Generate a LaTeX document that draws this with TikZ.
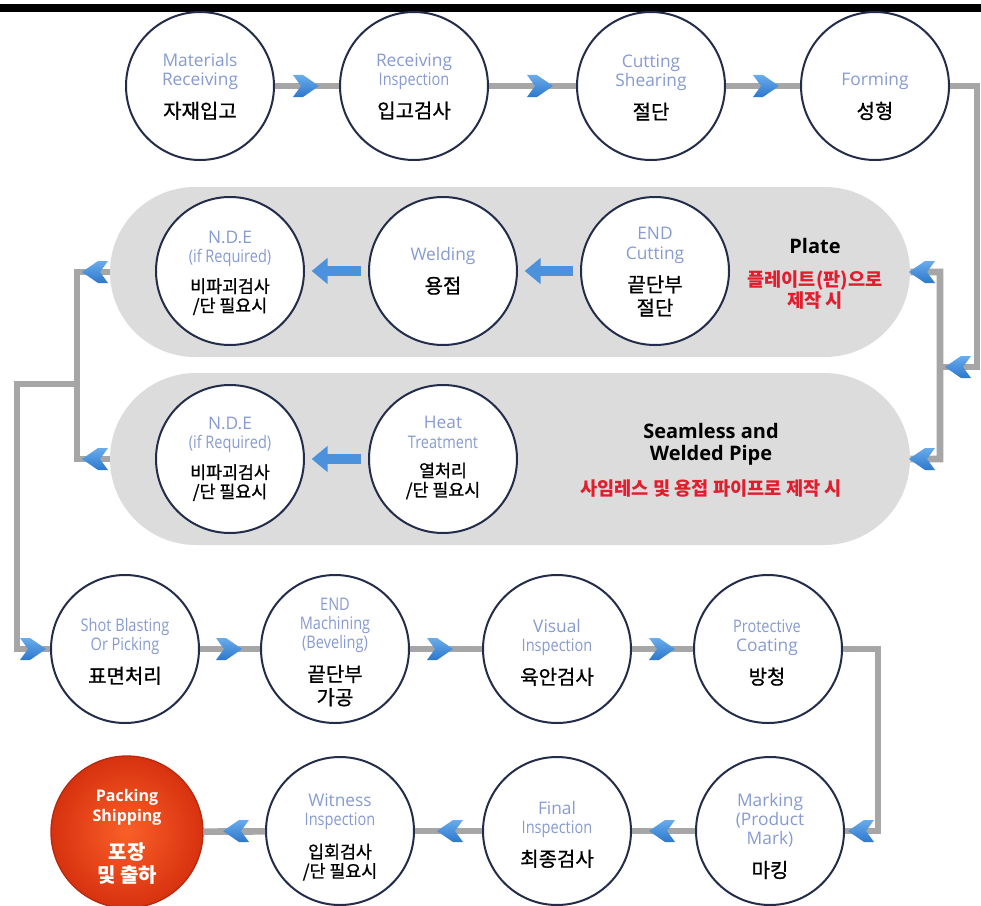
\documentclass[tikz,border=0pt]{standalone}
\usepackage{fontspec}
\setmainfont{Open Sans}
\newfontfamily\kr[FakeBold=0.9]{Noto Sans CJK KR}
\newfontfamily\krb{Noto Sans CJK KR}
\newfontfamily\nar[FakeStretch=0.84]{Open Sans}
\usetikzlibrary{shapes.misc,arrows.meta}
\definecolor{engblue}{RGB}{135,155,210}
\definecolor{navy}{RGB}{35,45,75}
\definecolor{conngray}{RGB}{166,166,166}
\definecolor{bandgray}{RGB}{220,220,220}
\definecolor{chevtop}{RGB}{105,172,235}
\definecolor{chevbot}{RGB}{45,120,205}
\definecolor{arrblue}{RGB}{75,145,220}
\definecolor{redtxt}{RGB}{225,30,45}
\definecolor{pkin}{RGB}{250,95,40}
\definecolor{pkout}{RGB}{215,50,15}
\definecolor{pkedge}{RGB}{185,40,15}
\newcommand\EN{\rmfamily\mdseries\color{engblue}\fontsize{13}{14.5}\selectfont}
\newcommand\ENn{\nar\mdseries\color{engblue}\fontsize{13}{14.5}\selectfont}
\newcommand\KO{\kr\mdseries\color{black}\fontsize{15}{14.5}\selectfont}
\newcommand\KOs{\kr\mdseries\color{black}\fontsize{13}{14.5}\selectfont}
\newcommand\BK{\rmfamily\bfseries\color{black}\fontsize{15}{16.5}\selectfont}
\newcommand\RD{\krb\bfseries\color{redtxt}\fontsize{14}{15}\selectfont}
\newcommand\PKE{\rmfamily\bfseries\color{white}\fontsize{12}{16}\selectfont}
\newcommand\PKK{\krb\bfseries\color{white}\fontsize{15}{16}\selectfont}
\tikzset{
  circ/.style={circle, draw=navy, line width=1.5pt, fill=white, minimum size=111pt, inner sep=0pt},
  pack/.style={circle, draw=pkedge, line width=1pt, inner color=pkin, outer color=pkout, minimum size=114pt, inner sep=0pt},
  band/.style={rounded rectangle, fill=bandgray, minimum width=600pt, minimum height=127.5pt, inner sep=0pt},
  conn/.style={draw=conngray, line width=5pt},
  blk/.style={draw=arrblue, line width=8pt, -{Triangle[length=12pt,width=19pt]}, shorten >=5pt, shorten <=5pt},
  lbl/.style={align=center, inner sep=0pt, font=\fontsize{13}{14.5}\selectfont},
  chev/.pic={\shade[top color=chevtop, bottom color=chevbot]
     (-13,-11) -- (-3,-11) -- (13,0) -- (-3,11) -- (-13,11) -- (-5,0) -- cycle;}
}
\begin{document}
\begin{tikzpicture}[x=0.75pt,y=-0.75pt]
\useasboundingbox (0,0) rectangle (981,906);
\fill[white] (0,0) rectangle (981,906);
\fill[black] (0,4) rectangle (981,12);

% bands
\node[band] (plate) at (510,272) {};
\node[band, minimum height=129pt] (seam) at (510,459) {};

% circles
\node[circ] (c1) at (200,86) {};
\node[circ] (c2) at (414,86) {};
\node[circ] (c3) at (651,86) {};
\node[circ] (c4) at (875,86) {};
\node[circ] (nde1) at (230,271) {};
\node[circ] (wel) at (443,271) {};
\node[circ] (endc) at (655,271) {};
\node[circ] (nde2) at (230,459) {};
\node[circ] (heat) at (443,459) {};
\node[circ] (sb) at (125,649) {};
\node[circ] (em) at (335,649) {};
\node[circ] (vi) at (557,649) {};
\node[circ] (pc) at (768,649) {};
\node[pack] (pk) at (127,832) {};
\node[circ] (wi) at (340,831) {};
\node[circ] (fi) at (557,831) {};
\node[circ] (mk) at (770,831) {};

% coordinates for bends
\coordinate (r1) at (977,86);
\coordinate (r2) at (977,367);
\coordinate (jr) at (940,367);
\coordinate (pt) at (940,272);
\coordinate (pb) at (940,459);
\coordinate (lt) at (77,272);
\coordinate (lb) at (77,459);
\coordinate (lj) at (77,384);
\coordinate (ll) at (17,384);
\coordinate (llb) at (17,649);
\coordinate (pr) at (878,649);
\coordinate (pr2) at (878,831);

% connectors
\draw[conn] (c1) -- (c2);
\draw[conn] (c2) -- (c3);
\draw[conn] (c3) -- (c4);
\draw[conn] (c4) -- (r1) -- (r2) -- (jr);
\draw[conn] (plate) -- (pt) -- (pb) -- (seam);
\draw[conn] (plate) -- (lt) -- (lb) -- (seam);
\draw[conn] (lj) -- (ll) -- (llb) -- (sb);
\draw[conn] (sb) -- (em);
\draw[conn] (em) -- (vi);
\draw[conn] (vi) -- (pc);
\draw[conn] (pc) -- (pr) -- (pr2) -- (mk);
\draw[conn] (mk) -- (fi);
\draw[conn] (fi) -- (wi);
\draw[conn] (wi) -- (pk);

% block arrows in bands
\draw[blk] (endc) -- (wel);
\draw[blk] (wel) -- (nde1);
\draw[blk] (heat) -- (nde2);

% chevrons
\pic at (306,86) {chev};
\pic at (540,86) {chev};
\pic at (766,86) {chev};
\pic[xscale=-1] at (958,367) {chev};
\pic[xscale=-1] at (922,272) {chev};
\pic[xscale=-1] at (922,459) {chev};
\pic[xscale=-1] at (95,272) {chev};
\pic[xscale=-1] at (95,459) {chev};
\pic at (33,649) {chev};
\pic at (229,649) {chev};
\pic at (440,649) {chev};
\pic at (662,649) {chev};
\pic[xscale=-1] at (861,831) {chev};
\pic[xscale=-1] at (662,831) {chev};
\pic[xscale=-1] at (450,831) {chev};
\pic[xscale=-1] at (236,831) {chev};

% texts
\node[lbl] (t1) at (200,86.5) {\EN Materials\\\EN Receiving\\[8pt]\KO 자재입고};
\node[lbl] (t2) at (414,86.5) {\EN Receiving\\\ENn Inspection\\[8pt]\KO 입고검사};
\node[lbl] (t3) at (651,87.5) {\EN Cutting\\\EN Shearing\\[8pt]\KO 절단};
\node[lbl] (t4) at (875,96.5) {\EN Forming\\[8pt]\KO 성형};
\node[lbl] (tnde1) at (230,273) {\EN N.D.E\\\ENn (if Required)\\[8pt]\KOs 비파괴검사\\\KOs /단 필요시};
\node[lbl] (twel) at (443,271) {\EN Welding\\[8pt]\KO 용접};
\node[lbl] (tendc) at (655,272) {\EN END\\\EN Cutting\\[8pt]\KO 끝단부\\[3pt]\KO 절단};
\node[lbl] (tplate) at (815,274) {\BK Plate\\[10pt]\RD 플레이트(판)으로\\\RD 제작 시};
\node[lbl] (tnde2) at (230,459) {\EN N.D.E\\\ENn (if Required)\\[8pt]\KOs 비파괴검사\\\KOs /단 필요시};
\node[lbl] (theat) at (443,458) {\EN Heat\\\ENn Treatment\\[7pt]\KOs 열처리\\\KOs /단 필요시};
\node[lbl] (tseam) at (711,460) {\BK Seamless and\\[2pt]\BK Welded Pipe\\[10pt]\RD 사임레스 및 용접 파이프로 제작 시};
\node[lbl] (tsb) at (125,651.5) {\ENn Shot Blasting\\\ENn Or Picking\\[8pt]\KO 표면처리};
\node[lbl] (tem) at (335,652) {\ENn END\\\ENn Machining\\\ENn (Beveling)\\[8pt]\KO 끝단부\\[3pt]\KO 가공};
\node[lbl] (tvi) at (557,652.5) {\EN Visual\\\ENn Inspection\\[8pt]\KO 육안검사};
\node[lbl] (tpc) at (767,652.5) {\ENn Protective\\\EN Coating\\[8pt]\KO 방청};
\node[lbl] (tpk) at (127,837) {\PKE Packing\\\PKE Shipping\\[12pt]\PKK 포장\\[3pt]\PKK 및 출하};
\node[lbl] (twi) at (340,837) {\EN Witness\\\ENn Inspection\\[10pt]\KOs 입회검사\\\KOs /단 필요시};
\node[lbl] (tfi) at (557,834.5) {\EN Final\\\ENn Inspection\\[8pt]\KO 최종검사};
\node[lbl] (tmk) at (770,836) {\EN Marking\\\EN (Product\\\EN Mark)\\[10pt]\KO 마킹};
\end{tikzpicture}
\end{document}
